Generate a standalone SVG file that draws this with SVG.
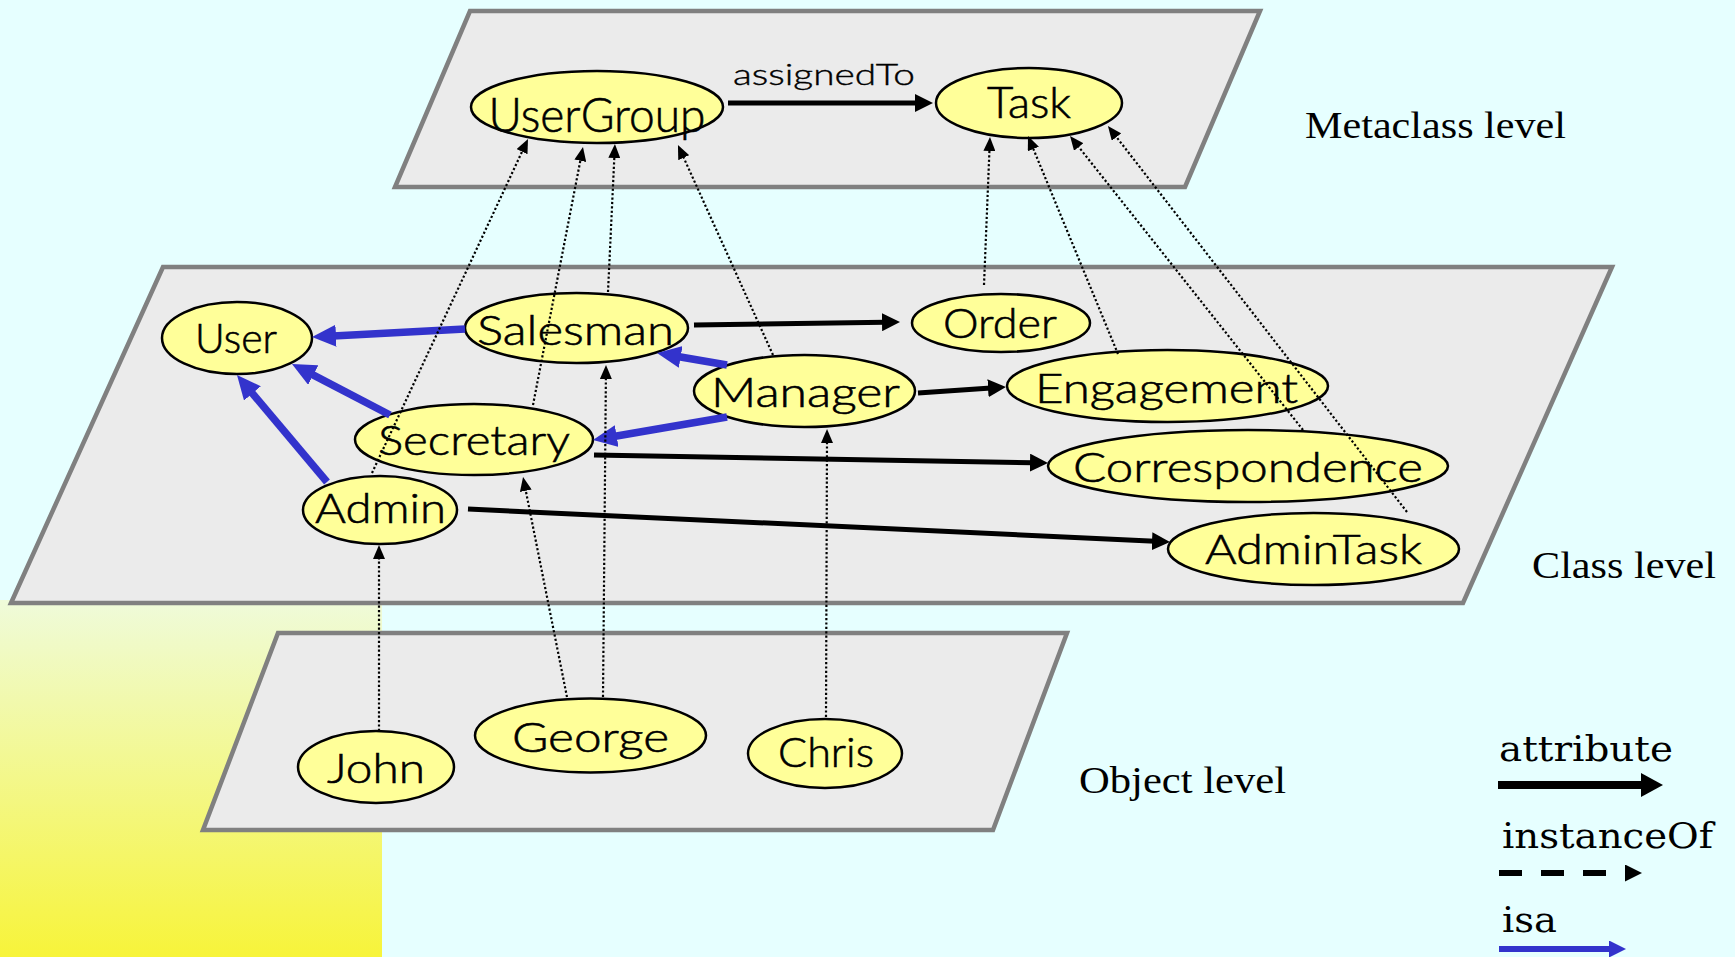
<svg xmlns="http://www.w3.org/2000/svg" width="1735" height="957" viewBox="0 0 1735 957">
  <defs>
    <linearGradient id="sunGrad" x1="0" y1="0" x2="0" y2="1">
      <stop offset="0" stop-color="#EFFBDA"/>
      <stop offset="1" stop-color="#F7F43A"/>
    </linearGradient>
    <!-- attribute arrowhead -->
    <marker id="arrAttr" markerUnits="userSpaceOnUse" markerWidth="18" markerHeight="18" refX="3" refY="9" orient="auto">
      <path d="M0,0 L18,9 L0,18 z" fill="#000"/>
    </marker>
    <!-- isa arrowhead -->
    <marker id="arrIsa" markerUnits="userSpaceOnUse" markerWidth="24" markerHeight="22" refX="3" refY="11" orient="auto">
      <path d="M0,0 L24,11 L0,22 z" fill="#3333CC"/>
    </marker>
    <!-- instanceOf arrowhead -->
    <marker id="arrInst" markerUnits="userSpaceOnUse" markerWidth="14" markerHeight="12" refX="2" refY="6" orient="auto">
      <path d="M0,0 L14,6 L0,12 z" fill="#000"/>
    </marker>
    <!-- legend arrowheads -->
    <marker id="legAttr" markerUnits="userSpaceOnUse" markerWidth="22" markerHeight="24" refX="2" refY="12" orient="auto">
      <path d="M0,0 L22,12 L0,24 z" fill="#000"/>
    </marker>
    <marker id="legInst" markerUnits="userSpaceOnUse" markerWidth="17" markerHeight="17" refX="-19" refY="8.5" orient="auto">
      <path d="M0,0 L17,8.5 L0,17 z" fill="#000"/>
    </marker>
    <marker id="legIsa" markerUnits="userSpaceOnUse" markerWidth="17" markerHeight="17" refX="2" refY="8.5" orient="auto">
      <path d="M0,0 L17,8.5 L0,17 z" fill="#3333CC"/>
    </marker>
  </defs>
  <style>
    .plane { fill: #EBEBEB; stroke: #808080; stroke-width: 4.5; stroke-linejoin: miter; }
    .node ellipse { fill: #FFFF99; stroke: #000; stroke-width: 2.5; }
    .node text { font-family: Lato, "Liberation Sans", Arial, sans-serif; font-weight: 300; font-size: 42px; fill: #000; stroke: #000; stroke-width: 0.6; text-anchor: middle; }
    .attr { stroke: #000; stroke-width: 5; fill: none; marker-end: url(#arrAttr); }
    .isa { stroke: #3333CC; stroke-width: 7.5; fill: none; marker-end: url(#arrIsa); }
    .inst { stroke: #000; stroke-width: 2.2; stroke-dasharray: 2.2 2.2; fill: none; marker-end: url(#arrInst); }
    .level { font-family: "Liberation Serif", "Times New Roman", serif; font-size: 38px; fill: #000; }
    .legend { font-family: "DejaVu Serif", "Liberation Serif", serif; font-size: 36px; fill: #000; }
    .edgeLabel { font-family: Lato, "Liberation Sans", Arial, sans-serif; font-weight: 300; font-size: 30px; fill: #000; stroke: #000; stroke-width: 0.4; }
  </style>

  <!-- backdrop -->
  <rect x="0" y="0" width="1735" height="957" fill="#E6FFFF"/>
  <rect x="0" y="600" width="382" height="357" fill="url(#sunGrad)"/>

  <!-- level planes -->
  <g id="planes">
    <polygon id="plane-metaclass" class="plane" points="470,11 1260,11 1185,187 395,187"/>
    <polygon id="plane-class" class="plane" points="163,267 1612,267 1463,603 11,603"/>
    <polygon id="plane-object" class="plane" points="278,633 1067,633 993,830 203,830"/>
  </g>

  <!-- level captions -->
  <text class="level" x="1305" y="138" textLength="261" lengthAdjust="spacingAndGlyphs">Metaclass level</text>
  <text class="level" x="1532" y="578" textLength="184" lengthAdjust="spacingAndGlyphs">Class level</text>
  <text class="level" x="1079" y="793" textLength="207" lengthAdjust="spacingAndGlyphs">Object level</text>

  <!-- metaclass nodes -->
  <g id="node-UserGroup" class="node">
    <ellipse cx="597" cy="107" rx="126" ry="36"/>
    <text x="597" y="131.5" style="font-size:48px" textLength="217" lengthAdjust="spacingAndGlyphs">UserGroup</text>
  </g>
  <g id="node-Task" class="node">
    <ellipse cx="1029" cy="103" rx="93" ry="35"/>
    <text x="1029" y="118" style="font-size:43px" textLength="84" lengthAdjust="spacingAndGlyphs">Task</text>
  </g>

  <!-- class nodes -->
  <g id="node-User" class="node">
    <ellipse cx="237" cy="338" rx="75" ry="36"/>
    <text x="236" y="353" textLength="82" lengthAdjust="spacingAndGlyphs">User</text>
  </g>
  <g id="node-Salesman" class="node">
    <ellipse cx="576.5" cy="328" rx="111.5" ry="35"/>
    <text x="575.5" y="345" textLength="197" lengthAdjust="spacingAndGlyphs">Salesman</text>
  </g>
  <g id="node-Secretary" class="node">
    <ellipse cx="474" cy="439.5" rx="119" ry="35.5"/>
    <text x="474" y="455" textLength="192" lengthAdjust="spacingAndGlyphs">Secretary</text>
  </g>
  <g id="node-Admin" class="node">
    <ellipse cx="380" cy="510" rx="77" ry="34"/>
    <text x="380.5" y="523" textLength="131" lengthAdjust="spacingAndGlyphs">Admin</text>
  </g>
  <g id="node-Manager" class="node">
    <ellipse cx="804.5" cy="391" rx="110.5" ry="36"/>
    <text x="805.5" y="407" textLength="189" lengthAdjust="spacingAndGlyphs">Manager</text>
  </g>
  <g id="node-Order" class="node">
    <ellipse cx="1001" cy="323" rx="89" ry="29"/>
    <text x="1000" y="338" textLength="114" lengthAdjust="spacingAndGlyphs">Order</text>
  </g>
  <g id="node-Engagement" class="node">
    <ellipse cx="1167.5" cy="386" rx="160.5" ry="36"/>
    <text x="1166.5" y="403" textLength="263" lengthAdjust="spacingAndGlyphs">Engagement</text>
  </g>
  <g id="node-Correspondence" class="node">
    <ellipse cx="1248" cy="466" rx="200" ry="36"/>
    <text x="1248" y="482" textLength="350" lengthAdjust="spacingAndGlyphs">Correspondence</text>
  </g>
  <g id="node-AdminTask" class="node">
    <ellipse cx="1313.5" cy="549" rx="145.5" ry="36"/>
    <text x="1313.5" y="564" textLength="217" lengthAdjust="spacingAndGlyphs">AdminTask</text>
  </g>

  <!-- object nodes -->
  <g id="node-John" class="node">
    <ellipse cx="376" cy="767" rx="78" ry="36"/>
    <text x="376" y="783" textLength="98" lengthAdjust="spacingAndGlyphs">John</text>
  </g>
  <g id="node-George" class="node">
    <ellipse cx="590.5" cy="735.5" rx="115.5" ry="37"/>
    <text x="590.5" y="752" textLength="157" lengthAdjust="spacingAndGlyphs">George</text>
  </g>
  <g id="node-Chris" class="node">
    <ellipse cx="825" cy="753.5" rx="77" ry="34.5"/>
    <text x="826" y="767" textLength="96" lengthAdjust="spacingAndGlyphs">Chris</text>
  </g>

  <!-- connectors -->
  <g id="connectors">
    <!-- attribute links -->
    <line class="attr" x1="728" y1="103" x2="918" y2="103"/>
    <line class="attr" x1="694" y1="325" x2="885" y2="322.2"/>
    <line class="attr" x1="918" y1="393" x2="991" y2="388"/>
    <line class="attr" x1="594" y1="455" x2="1033" y2="462.7"/>
    <line class="attr" x1="468" y1="509" x2="1155" y2="541.3"/>

    <!-- isa links -->
    <line class="isa" x1="465" y1="329" x2="333" y2="335.9"/>
    <line class="isa" x1="390" y1="415" x2="310.6" y2="373.7"/>
    <line class="isa" x1="327" y1="482" x2="250.5" y2="391.1"/>
    <line class="isa" x1="727" y1="365" x2="677.7" y2="356.5"/>
    <line class="isa" x1="727" y1="417" x2="613.7" y2="436.5"/>

    <!-- instanceOf: classes to UserGroup -->
    <line class="inst" x1="372" y1="473" x2="522.9" y2="149.9"/>
    <line class="inst" x1="533" y1="405" x2="580.7" y2="158.8"/>
    <line class="inst" x1="608" y1="292" x2="614.4" y2="156"/>
    <line class="inst" x1="773" y1="355" x2="682.9" y2="155.9"/>
    <!-- instanceOf: classes to Task -->
    <line class="inst" x1="984" y1="285" x2="989.5" y2="149"/>
    <line class="inst" x1="1118" y1="354" x2="1032.6" y2="147.1"/>
    <line class="inst" x1="1303" y1="430" x2="1077.5" y2="145.4"/>
    <line class="inst" x1="1407" y1="512" x2="1115.3" y2="135.5"/>
    <!-- instanceOf: objects to classes -->
    <line class="inst" x1="379" y1="731" x2="379" y2="557"/>
    <line class="inst" x1="567" y1="697" x2="525.4" y2="488.8"/>
    <line class="inst" x1="603" y1="697" x2="605.9" y2="377"/>
    <line class="inst" x1="826" y1="717" x2="827" y2="441"/>
  </g>

  <text class="edgeLabel" x="733" y="85" textLength="182" lengthAdjust="spacingAndGlyphs">assignedTo</text>

  <!-- legend -->
  <g id="legend">
    <text class="legend" x="1499" y="761" textLength="174" lengthAdjust="spacingAndGlyphs">attribute</text>
    <line x1="1498" y1="785" x2="1643" y2="785" stroke="#000" stroke-width="8" marker-end="url(#legAttr)"/>
    <text class="legend" x="1502" y="848" textLength="211" lengthAdjust="spacingAndGlyphs">instanceOf</text>
    <line x1="1499" y1="873" x2="1606" y2="873" stroke="#000" stroke-width="6" stroke-dasharray="23 19" marker-end="url(#legInst)"/>
    <text class="legend" x="1502" y="932" textLength="55" lengthAdjust="spacingAndGlyphs">isa</text>
    <line x1="1499" y1="949" x2="1611" y2="949" stroke="#3333CC" stroke-width="6" marker-end="url(#legIsa)"/>
  </g>
</svg>
